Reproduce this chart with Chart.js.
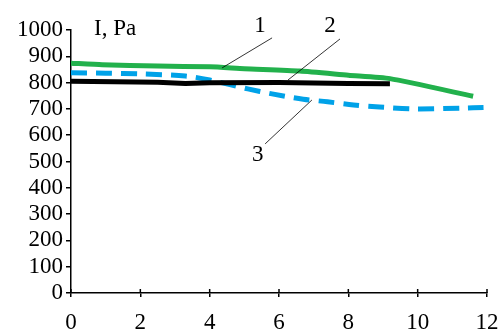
<!DOCTYPE html>
<html>
<head>
<meta charset="utf-8">
<script src="https://cdn.jsdelivr.net/npm/chart.js@4/dist/chart.umd.min.js"></script>
<style>
  html, body { margin: 0; padding: 0; background: #fff; }
  #wrap { width: 501px; height: 329px; }
</style>
</head>
<body>
<div id="wrap"><canvas id="chart"></canvas></div>
<script>
// ─── Data ────────────────────────────────────────────────────
const xTicks = [0, 2, 4, 6, 8, 10, 12];
const yTicks = [0, 100, 200, 300, 400, 500, 600, 700, 800, 900, 1000];

// curve 1 (green)
const x1 = [0, 0.9, 2.5, 4, 5, 6.6, 8, 9.2, 11.6];
const y1 = [874, 868, 863, 860, 853, 844, 828, 815, 748];

// curve 2 (black)
const x2 = [0, 2.5, 3.3, 4, 6, 8, 9.2];
const y2 = [805, 801, 797, 799, 800, 797, 796];

// curve 3 (blue, dashed)
const x3 = [0, 1, 2, 3.3, 4, 5.1, 5.8, 6.7, 7.4, 8.15, 8.9, 9.9, 11.3, 11.9];
const y3 = [837, 836, 833, 825, 810, 776, 757, 737, 727, 715, 707, 700, 703, 705];

const curveLabels = ['1', '2', '3'];
// label position and leader line (from, to) in data units
const labelAt   = [[5.45, 1015], [7.47, 1015], [5.39, 525]];
const leaderFrom = [[5.8, 970], [7.76, 966], [5.6, 567]];
const leaderTo   = [[4.36, 856], [6.26, 810], [6.95, 734]];

const FONT = 'Liberation Serif';

const pts = (xs, ys) => xs.map((x, i) => ({ x, y: ys[i] }));

// ─── Annotations: axis title, curve numbers, crossing x ticks ─
const extras = {
  id: 'extras',
  afterDraw(chart) {
    const { ctx, scales: { x, y } } = chart;
    ctx.save();
    ctx.fillStyle = '#000';
    ctx.strokeStyle = '#000';

    // x ticks go through the axis
    ctx.lineWidth = 1.5;
    xTicks.forEach((v) => {
      const px = x.getPixelForValue(v);
      ctx.beginPath();
      ctx.moveTo(px, y.bottom - 4);
      ctx.lineTo(px, y.bottom);
      ctx.stroke();
    });

    ctx.font = `23px "${FONT}"`;
    ctx.textAlign = 'left';
    ctx.textBaseline = 'middle';
    ctx.fillText('I, Pa', 94, 29);

    ctx.textAlign = 'center';
    ctx.lineWidth = 0.8;
    curveLabels.forEach((t, i) => {
      ctx.fillText(t, x.getPixelForValue(labelAt[i][0]), y.getPixelForValue(labelAt[i][1]));
      ctx.beginPath();
      ctx.moveTo(x.getPixelForValue(leaderFrom[i][0]), y.getPixelForValue(leaderFrom[i][1]));
      ctx.lineTo(x.getPixelForValue(leaderTo[i][0]), y.getPixelForValue(leaderTo[i][1]));
      ctx.stroke();
    });
    ctx.restore();
  },
};

const axisFont = { family: FONT, size: 23 };

new Chart(document.getElementById('chart'), {
  type: 'scatter',
  data: {
    datasets: [
      {
        label: '1',
        data: pts(x1, y1),
        showLine: true,
        borderColor: '#22b14c',
        borderWidth: 5,
        pointRadius: 0,
        tension: 0.2,
      },
      {
        label: '2',
        data: pts(x2, y2),
        showLine: true,
        borderColor: '#000000',
        borderWidth: 5,
        pointRadius: 0,
        tension: 0,
      },
      {
        label: '3',
        data: pts(x3, y3),
        showLine: true,
        borderColor: '#00a2e8',
        borderWidth: 5,
        borderDash: [16, 9],
        pointRadius: 0,
        tension: 0.3,
      },
    ],
  },
  options: {
    responsive: true,
    maintainAspectRatio: false,
    animation: false,
    layout: { padding: { top: 30, right: 14, left: 0, bottom: 0 } },
    plugins: {
      legend: { display: false },
      tooltip: { enabled: false },
    },
    scales: {
      x: {
        type: 'linear',
        min: 0, max: 12,
        afterBuildTicks: (s) => { s.ticks = xTicks.map((v) => ({ value: v })); },
        afterFit: (s) => { s.height = 36; s.paddingRight = 0; s.paddingLeft = 0; },
        ticks: {
          color: '#000', font: axisFont, padding: 12, maxRotation: 0,
          autoSkip: false, callback: (v) => String(v),
        },
        grid: { drawOnChartArea: false, tickLength: 4, color: '#000', lineWidth: 1.5 },
        border: { color: '#000', width: 1.5 },
      },
      y: {
        type: 'linear',
        min: 0, max: 1000,
        afterBuildTicks: (s) => { s.ticks = yTicks.map((v) => ({ value: v })); },
        afterFit: (s) => { s.width = 71; s.paddingTop = 0; s.paddingBottom = 0; },
        ticks: {
          color: '#000', font: axisFont, padding: 3,
          autoSkip: false, callback: (v) => String(v),
        },
        grid: { drawOnChartArea: false, tickLength: 5, color: '#000', lineWidth: 1.5 },
        border: { color: '#000', width: 1.5 },
      },
    },
  },
  plugins: [extras],
});
</script>
</body>
</html>
